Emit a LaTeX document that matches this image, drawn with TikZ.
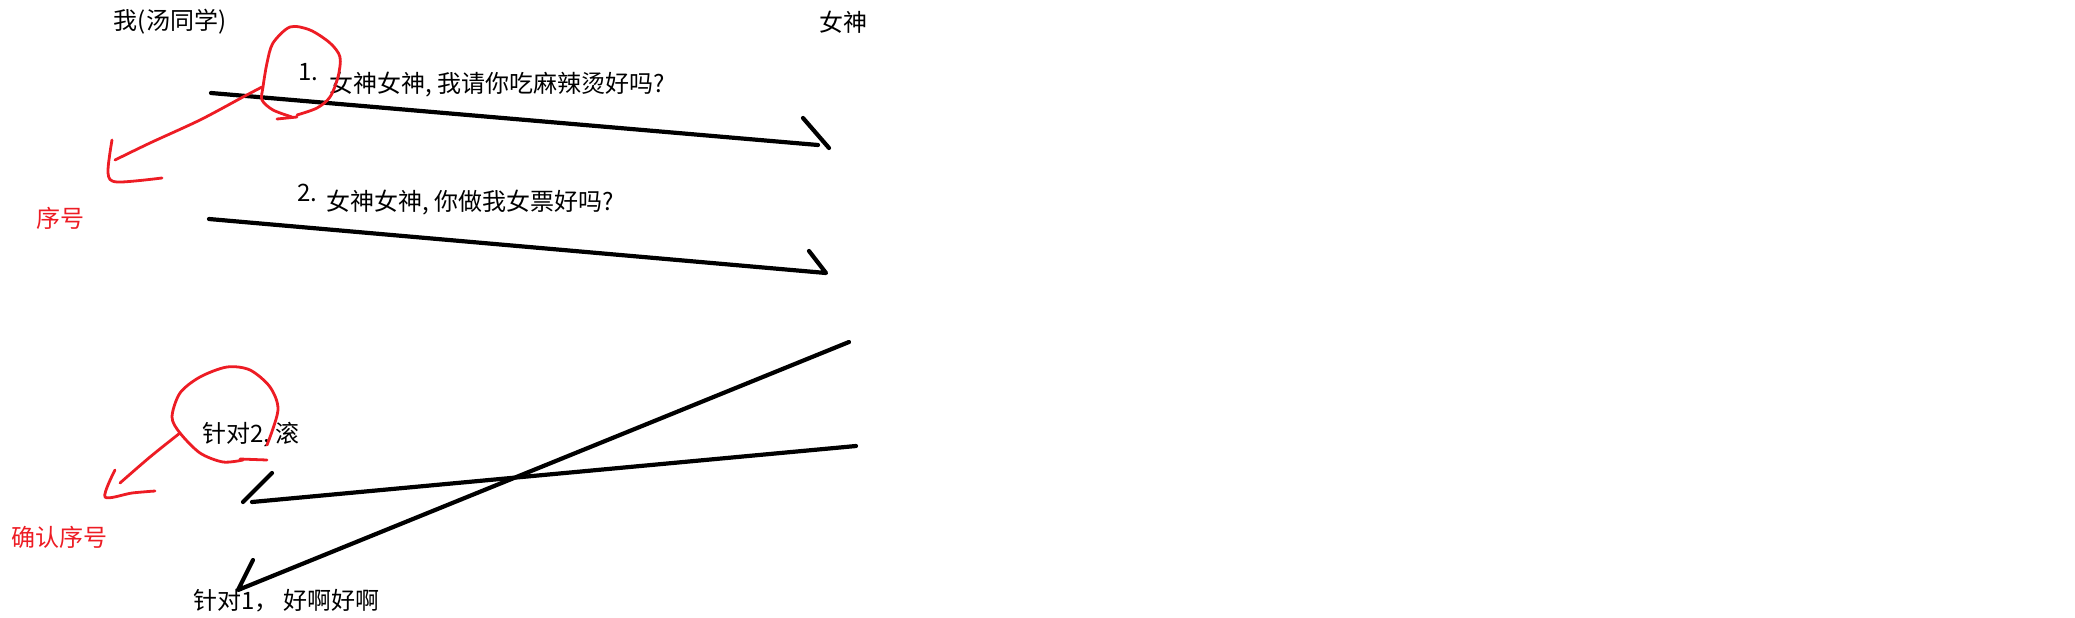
\documentclass[tikz,border=0pt]{standalone}
\usepackage{fontspec}
\setmainfont{Noto Sans CJK SC}
\definecolor{penred}{RGB}{237,28,36}
\tikzset{
	msg/.style={line width=4.2pt, line cap=round, line join=round},
	redpen/.style={draw=penred, line width=2.8pt, line cap=round, line join=round},
	lbl/.style={inner sep=0pt, font=\fontsize{24}{24}\selectfont},
	note/.style={lbl, text=penred},
}
\begin{document}
\begin{tikzpicture}[x=1pt,y=-1pt]
			\useasboundingbox (0,0) rectangle (2075,618);
			\node[lbl] (me) at (170,22) {我(汤同学)};
			\node[lbl] (she) at (843,22) {女神};
			% first request
			\coordinate (m1s) at (211,93);
			\coordinate (m1e) at (818,145);
			\coordinate (m1h) at (803,118);
			\coordinate (m1t) at (829,148);
			\node[lbl] (n1) at (308,72) {1.};
			\node[lbl, anchor=west] (q1) at (329,85) {女神女神, 我请你吃麻辣烫好吗?};
			\draw[msg] (m1s) -- (m1e);
			\draw[msg] (m1h) -- (m1t);
			% second request
			\coordinate (m2s) at (209,219);
			\coordinate (m2e) at (826,273);
			\coordinate (m2h) at (809,251);
			\node[lbl] (n2) at (307,193) {2.};
			\node[lbl, anchor=west] (q2) at (326,203) {女神女神, 你做我女票好吗?};
			\draw[msg] (m2s) -- (m2e) -- (m2h);
			% replies
			\coordinate (r1s) at (849,342);
			\coordinate (r1e) at (238,590);
			\coordinate (r1h) at (253,560);
			\coordinate (r2s) at (856,446);
			\coordinate (r2e) at (252,502);
			\coordinate (r2h) at (272,473);
			\coordinate (r2t) at (243,502);
			\draw[msg] (r1s) -- (r1e) -- (r1h);
			\draw[msg] (r2s) -- (r2e);
			\draw[msg] (r2h) -- (r2t);
			\node[lbl, anchor=west] (a2) at (202,435) {针对2, 滚};
			\node[lbl, anchor=west] (a1) at (193,601) {针对1，\ 好啊好啊};
			% red notes
			\node[note] (seq) at (60,218) {序号};
			\node[note] (ack) at (60,537) {确认序号};
			\draw[redpen] plot[smooth] coordinates {(297,115) (317,108) (330,97) (338,77) (340,57) (330,43) (310,30) (290,27) (273,43) (267,63) (263,87) (262,100) (273,110) (292,117)};
			\draw[redpen] (277,119) -- (297,117);
			\draw[redpen] plot[smooth] coordinates {(262,87) (243,97) (200,120) (150,143) (115,160)};
			\draw[redpen] plot[smooth] coordinates {(112,140) (108,173) (117,182) (162,178)};
			\draw[redpen] plot[smooth] coordinates {(267,445) (278,410) (270,387) (250,370) (227,367) (200,377) (180,393) (172,417) (180,433) (200,453) (223,462) (243,460)};
			\draw[redpen] (240,459) -- (267,460);
			\draw[redpen] plot[smooth] coordinates {(180,433) (150,457) (120,483)};
			\draw[redpen] plot[smooth] coordinates {(115,470) (105,497) (132,493) (155,491)};
			
		\end{tikzpicture}
\end{document}
